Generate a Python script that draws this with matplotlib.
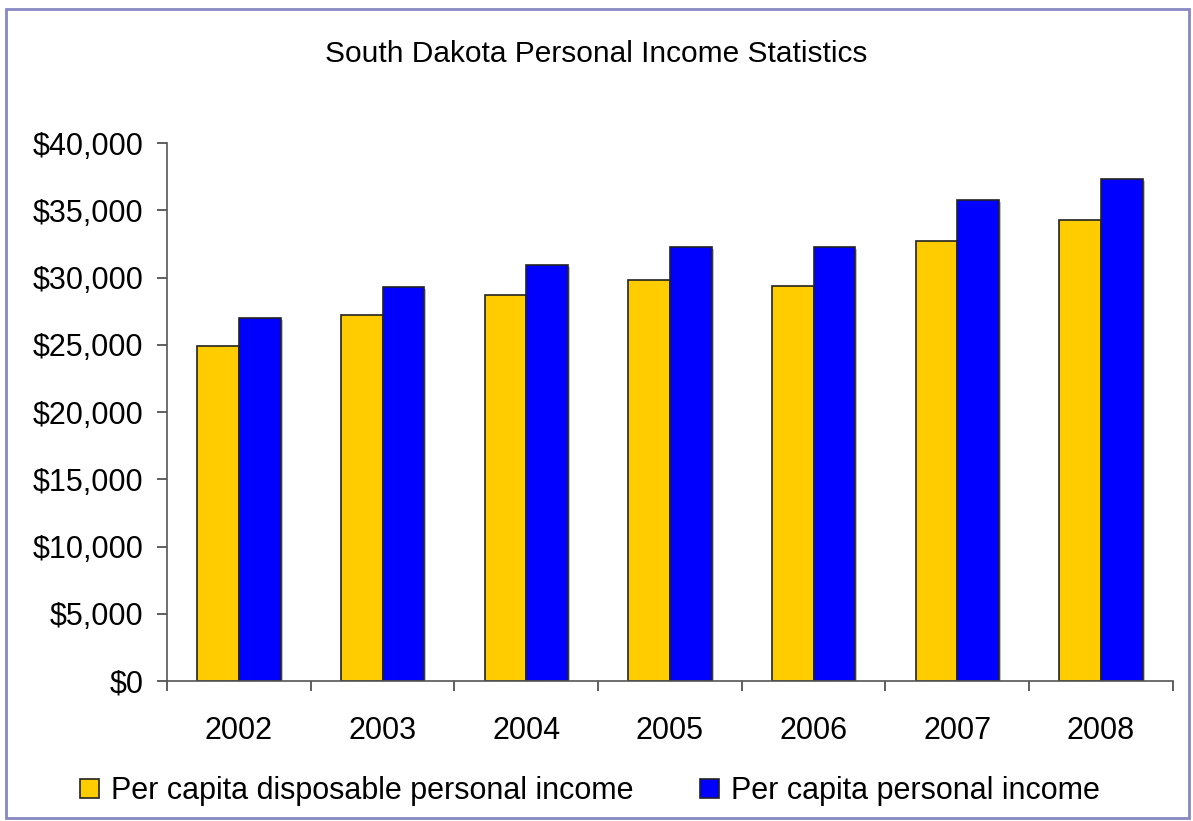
import numpy as np
import matplotlib.pyplot as plt
from matplotlib.patches import Rectangle
from matplotlib.ticker import FuncFormatter, MultipleLocator
import matplotlib.patheffects as pe

plt.rcParams['font.family'] = ['Liberation Sans', 'DejaVu Sans']

years = ['2002', '2003', '2004', '2005', '2006', '2007', '2008']
disposable = [24900, 27200, 28700, 29800, 29400, 32700, 34300]  # per capita disposable personal income
personal = [27000, 29300, 30900, 32300, 32300, 35800, 37300]    # per capita personal income
series_names = ['Per capita disposable personal income', 'Per capita personal income']
colors = ['#FFCC00', '#0000FF']

fig = plt.figure(figsize=(11.93, 8.21), dpi=100)
ax = fig.add_axes([0.140, 0.1705, 0.843, 0.6553])

x = np.arange(len(years))
w = 0.29
shadow = [pe.SimplePatchShadow(offset=(1.5, -1.5), shadow_rgbFace='gray', alpha=0.5), pe.Normal()]
for vals, off, c in [(disposable, -w / 2, colors[0]), (personal, w / 2, colors[1])]:
    bars = ax.bar(x + off, vals, width=w, color=c, edgecolor='#222222', linewidth=1.2)
    for b in bars:
        b.set_path_effects(shadow)

ax.set_xlim(-0.5, len(years) - 0.5)
ax.set_ylim(0, 40000)
ax.yaxis.set_major_locator(MultipleLocator(5000))
ax.yaxis.set_major_formatter(FuncFormatter(lambda v, p: '${:,.0f}'.format(v)))

# category labels centred, tick marks on the boundaries
ax.set_xticks(x)
ax.set_xticklabels(years)
ax.set_xticks(np.arange(-0.5, len(years)), minor=True)
ax.tick_params(axis='x', which='major', length=0, pad=25, labelsize=22)
ax.tick_params(axis='x', which='minor', length=7, width=1.2, color='#444444')
ax.tick_params(axis='y', length=7, width=1.2, color='#444444', pad=10, labelsize=22)

for s in ['top', 'right']:
    ax.spines[s].set_visible(False)
for s in ['left', 'bottom']:
    ax.spines[s].set_color('#555555')
    ax.spines[s].set_linewidth(1.2)

fig.text(0.5, 1 - 54 / 821, 'South Dakota Personal Income Statistics',
         ha='center', va='center', fontsize=21.5)

handles = [Rectangle((0, 0), 1, 1, facecolor=c, edgecolor='#222222', linewidth=1.2) for c in colors]
fig.legend(handles, series_names, loc='center', bbox_to_anchor=(0.4946, 1 - 791 / 821),
           ncol=2, frameon=False, fontsize=22, handlelength=0.6, handleheight=0.6,
           handletextpad=0.4, columnspacing=2.2)

# outer chart frame
fig.patches.append(Rectangle((6 / 1193, 3 / 821), 1183 / 1193, 809 / 821,
                             transform=fig.transFigure, fill=False,
                             edgecolor='#8888C4', linewidth=2))

fig.savefig('out.png', dpi=100)
